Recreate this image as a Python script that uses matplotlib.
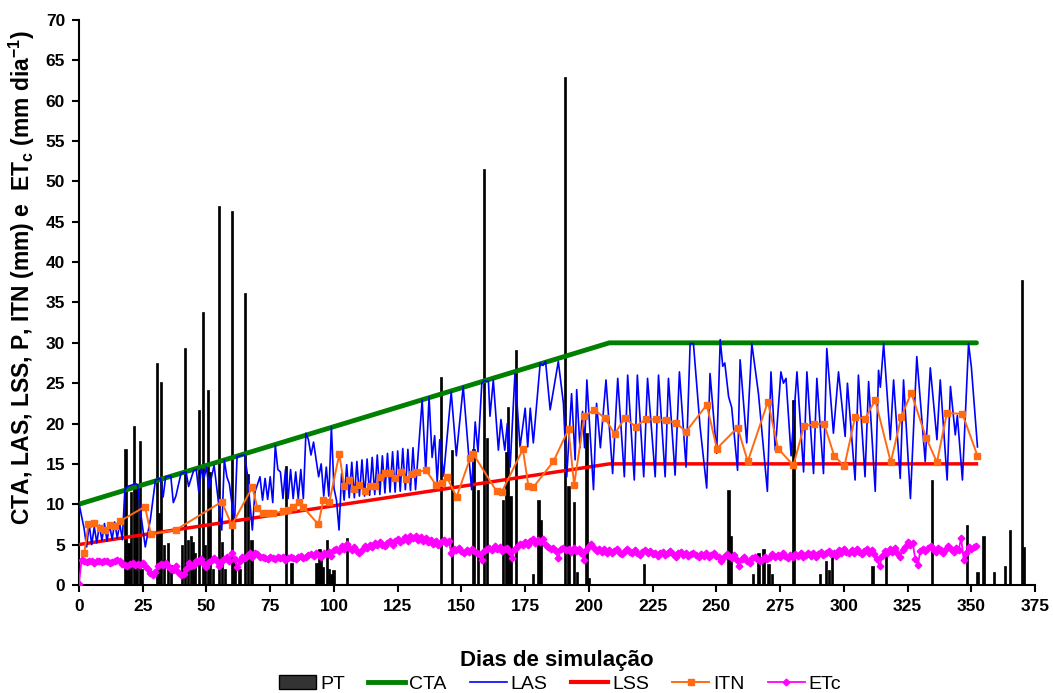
import numpy as np
import matplotlib
matplotlib.use('Agg')
import matplotlib.pyplot as plt
from matplotlib.patches import Patch
from matplotlib.lines import Line2D

plt.rcParams['font.family'] = ['Liberation Sans', 'DejaVu Sans']
plt.rcParams['mathtext.default'] = 'regular'

# CTA / LSS (breakpoints of the straight segments)
cta_days = [0, 208, 352]
cta_vals = [10, 30, 30]
lss_days = [0, 208, 352]
lss_vals = [5, 15, 15]

# LAS (local peaks / troughs)
las_days = [0, 2, 3, 4, 5, 6, 7, 8, 9, 10, 11, 12, 13, 14, 15, 16, 17, 18, 19, 20, 21, 22, 23, 24, 26, 28,
            30, 31, 32, 33, 34, 36, 37, 38, 40, 41, 42, 43, 45, 46, 47, 48, 49, 50, 51, 53, 56, 57, 58, 59,
            61, 62, 63, 65, 66, 68, 69, 71, 72, 73, 74, 75, 76, 77, 78, 79, 80, 81, 82, 83, 84, 85, 86, 87,
            88, 89, 90, 91, 92, 94, 95, 96, 97, 98, 99, 100, 101, 102, 103, 104, 105, 106, 107, 108, 109,
            110, 111, 112, 113, 114, 115, 116, 117, 118, 119, 120, 121, 122, 123, 124, 125, 126, 127, 128,
            129, 130, 131, 132, 134.6, 136, 137.3, 138.5, 139.5, 140.5, 141.5, 143, 146, 148, 150.7, 152.7,
            154, 155.4, 156.5, 158, 159, 160.6, 161.2, 162.5, 164.5, 165.5, 167, 168, 169.1, 171, 173, 175,
            176, 177, 178.2, 180.9, 182, 183, 184.8, 188, 190, 191.3, 193.2, 194.6, 195.2, 196.5, 197.5,
            198.3, 199.2, 201.8, 203, 204.5, 206.7, 209.3, 211.3, 213.9, 215.2, 217.8, 219, 221.5, 223,
            226, 227.3, 229.9, 231.2, 233.8, 235.5, 238.1, 239.7, 241, 243.6, 246.2, 247.5, 250.1, 251.5,
            252.5, 253.3, 254.8, 256, 258.3, 259.3, 261.9, 263.9, 266.5, 270, 271.4, 273.1, 275.3, 276.3,
            277.3, 279.3, 281.6, 284.2, 285.5, 288.1, 289.4, 292, 293.3, 295.9, 297.9, 300.5, 301.4, 304.4,
            305.7, 308.3, 309.7, 312.3, 313.6, 314.3, 315.6, 318.2, 319.5, 322.1, 323.4, 326.1, 328.6,
            331.9, 333.9, 336.5, 337.8, 340.5, 341.8, 343.7, 344.5, 346.5, 348.9, 350, 352.4]
las_vals = [10.1, 7.0, 4.7, 7.5, 5.0, 7.2, 5.2, 7.4, 5.5, 7.6, 5.4, 7.5, 5.6, 7.8, 5.8, 7.6, 5.6, 11.8, 12.2,
            12.3, 12.4, 12.6, 12.4, 9.4, 4.7, 8.1, 13.0, 13.1, 13.2, 10.9, 13.4, 13.5, 10.2, 11.0, 13.8, 13.9,
            14.0, 12.2, 14.2, 14.3, 11.5, 14.4, 13.2, 14.6, 12.0, 14.8, 6.8, 15.5, 13.4, 12.5, 7.6, 15.9,
            16.0, 16.1, 13.8, 6.8, 11.5, 13.4, 10.5, 13.2, 10.6, 13.4, 10.2, 17.3, 14.3, 14.0, 10.7, 14.3,
            10.7, 14.3, 10.7, 14.0, 10.7, 14.3, 10.7, 18.8, 18.0, 16.1, 17.7, 13.4, 15.0, 11.0, 14.6, 11.0,
            19.6, 12.0, 10.5, 6.8, 13.8, 10.5, 14.9, 10.8, 15.2, 10.8, 15.3, 11.0, 15.5, 11.0, 15.6, 11.1,
            15.8, 11.2, 16.1, 11.2, 16.0, 11.4, 16.3, 11.5, 16.5, 11.5, 16.6, 11.6, 16.9, 11.8, 16.8, 11.7,
            17.0, 11.8, 22.9, 14.0, 23.3, 15.8, 18.5, 12.8, 18.0, 13.5, 23.9, 16.0, 24.6, 16.7, 11.8, 20.2,
            16.5, 25.0, 25.3, 25.2, 20.9, 25.4, 16.7, 20.5, 16.7, 20.0, 14.6, 26.2, 17.1, 21.9, 17.1, 21.9,
            17.6, 27.5, 27.2, 27.7, 21.7, 27.7, 22.5, 13.4, 23.7, 15.5, 24.2, 17.0, 21.5, 17.0, 25.4, 11.8,
            22.5, 17.0, 25.4, 13.8, 25.6, 13.4, 26.0, 13.0, 26.0, 13.4, 25.6, 13.4, 26.0, 13.4, 25.6, 13.6,
            26.4, 14.6, 29.9, 29.9, 19.6, 12.0, 26.2, 16.3, 30.4, 27.1, 27.5, 23.3, 22.0, 14.2, 27.9, 17.6,
            29.9, 23.7, 11.6, 26.4, 16.7, 26.4, 25.0, 25.6, 16.0, 26.4, 14.0, 26.4, 13.8, 25.6, 13.8, 29.3,
            18.8, 26.4, 18.4, 25.0, 13.0, 26.0, 13.4, 25.2, 11.6, 26.6, 24.5, 29.9, 18.0, 25.4, 13.2, 25.4,
            10.7, 28.3, 15.3, 26.9, 18.0, 25.4, 13.0, 24.6, 18.6, 21.0, 13.0, 29.9, 27.0, 17.1]

# ITN (irrigation events)
itn_days = [2.1, 3.7, 6, 8.2, 10.2, 12.2, 14.1, 16.1, 25.9, 28.2, 37.9, 56, 59.9, 68, 70, 72.3, 74.3, 76.2,
            80.2, 82.1, 84.1, 86.1, 88, 93.9, 95.8, 98.2, 102.1, 104, 106.1, 107.9, 110, 112.2, 114.2, 116.1,
            118.1, 120.1, 122, 124, 126.2, 128.3, 130.5, 132.4, 136.1, 140, 142.2, 144.2, 148.1, 153.4,
            154.7, 163.8, 165.8, 174.1, 176.3, 178.2, 186.1, 192, 194.2, 198.2, 202.1, 206.2, 210.1, 214.1,
            218.3, 222.2, 226.2, 230.1, 234.1, 238.1, 246.2, 250.2, 258.3, 262.3, 270.2, 274.2, 280.2,
            284.4, 288.3, 292.2, 296.2, 300.2, 304.4, 308.3, 312.3, 318.4, 322.5, 326.4, 332.3, 336.5,
            340.4, 346.5, 352.4]
itn_vals = [4.0, 7.5, 7.7, 7.1, 6.8, 7.4, 7.3, 7.9, 9.7, 6.3, 6.8, 10.3, 7.4, 12.1, 9.5, 8.9, 8.9, 8.9,
            9.1, 9.3, 9.6, 10.3, 9.6, 7.5, 10.5, 10.3, 16.2, 12.3, 13.0, 11.9, 12.4, 11.6, 12.2, 12.2,
            13.4, 13.9, 13.9, 13.2, 14.0, 13.1, 13.8, 14.0, 14.2, 12.4, 12.6, 13.4, 10.9, 15.7,
            16.2, 11.6, 11.5, 16.8, 12.2, 12.1, 15.3, 19.3, 12.4, 20.9, 21.7, 20.7, 18.7, 20.7,
            19.6, 20.5, 20.5, 20.4, 20.1, 19.0, 22.3, 16.9, 19.5, 15.3, 22.7, 16.9, 14.8,
            19.7, 19.9, 20.0, 16.0, 14.7, 20.8, 20.6, 22.9, 15.2, 20.8, 23.8, 18.2, 15.2,
            21.3, 21.2, 16.0]

# ETc (daily, day 0 .. 352)
etc_vals = [0.1,
            3.1, 3.0, 2.8, 2.9, 3.0, 2.7, 2.9, 3.0, 2.8, 2.9,
            3.0, 2.7, 2.8, 3.0, 3.1, 2.9, 2.6, 2.5, 2.4, 2.6,
            2.7, 2.5, 2.6, 2.5, 2.7, 2.4, 2.0, 1.5, 1.2, 1.6,
            2.4, 2.6, 2.5, 2.7, 2.3, 2.0, 1.9, 2.4, 1.6, 1.2,
            1.4, 2.0, 2.7, 2.3, 2.5, 2.9, 3.0, 3.2, 2.6, 2.2,
            2.8, 3.1, 3.3, 2.9, 2.4, 2.9, 3.2, 3.4, 3.0, 3.9,
            3.2, 2.2, 2.9, 3.4, 3.3, 3.6, 3.9, 3.5, 3.9, 3.8,
            3.5, 3.4, 3.3, 3.2, 3.4, 3.3, 3.2, 3.5, 3.3, 3.4,
            3.1, 3.3, 3.5, 3.3, 3.2, 3.4, 3.6, 3.3, 3.5, 3.7,
            3.8, 3.6, 3.9, 3.7, 3.5, 4.0, 3.8, 4.1, 3.6, 4.3,
            4.5, 4.2, 4.8, 4.4, 5.1, 4.6, 4.3, 4.7, 4.2, 3.9,
            4.3, 4.8, 4.6, 5.0, 4.7, 5.2, 4.9, 5.3, 5.0, 4.8,
            5.2, 5.5, 4.9, 5.4, 5.7, 5.3, 5.6, 5.9, 5.5, 6.0,
            5.8, 6.1, 5.6, 5.9, 5.4, 5.8, 5.3, 5.6, 5.1, 5.4,
            5.0, 5.3, 5.6, 5.2, 5.5, 3.9, 4.4, 4.3, 4.6, 4.2,
            4.0, 4.3, 4.1, 4.4, 4.2, 4.0, 3.8, 3.1, 4.2, 4.5,
            4.6, 4.3, 4.8, 4.4, 4.7, 4.2, 4.5, 4.6, 4.1, 3.3,
            4.5, 4.8, 5.1, 4.9, 5.3, 5.0, 5.4, 5.7, 5.2, 5.6,
            5.3, 5.7, 4.9, 4.7, 4.5, 4.6, 4.2, 3.3, 4.4, 4.6,
            4.3, 4.5, 4.1, 4.6, 4.2, 4.4, 4.0, 3.1, 4.3, 4.8,
            5.1, 4.6, 4.2, 4.5, 4.1, 4.4, 4.0, 4.3, 3.9, 4.2,
            4.4, 4.0, 3.8, 4.2, 4.5, 4.1, 3.9, 4.3, 4.0, 3.7,
            4.1, 4.3, 3.9, 4.2, 3.8, 4.0, 3.6, 3.9, 4.1, 3.7,
            3.9, 4.2, 3.8, 3.5, 3.9, 4.1, 3.7, 4.0, 3.6, 3.8,
            4.0, 3.7, 3.4, 3.8, 3.6, 3.9, 3.5, 3.7, 4.0, 3.6,
            3.4, 2.9, 3.5, 3.8, 3.6, 3.3, 3.7, 3.1, 2.3, 3.2,
            3.4, 3.0, 2.7, 3.3, 3.5, 3.2, 2.9, 3.1, 3.4, 3.2,
            3.5, 3.8, 3.4, 3.7, 3.5, 3.9, 3.6, 3.3, 3.7, 3.5,
            3.8, 3.6, 3.9, 3.5, 3.7, 4.0, 3.6, 3.9, 3.5, 3.8,
            4.1, 3.7, 3.9, 4.2, 3.8, 4.0, 3.6, 4.3, 4.0, 4.4,
            4.1, 3.9, 4.3, 4.0, 4.4, 4.1, 3.8, 4.2, 4.5, 4.0,
            4.3, 3.8, 3.2, 2.3, 3.6, 4.2, 3.9, 4.4, 4.1, 4.6,
            4.0, 3.5, 4.3, 4.7, 5.3, 4.9, 5.2, 3.2, 2.5, 4.2,
            4.5, 4.2, 4.6, 4.8, 4.4, 4.1, 4.6, 4.3, 4.0, 4.5,
            4.8, 4.4, 4.1, 4.6, 4.3, 5.8, 3.1, 3.9, 4.7, 4.4,
            4.7, 4.8]
etc_days = np.arange(len(etc_vals))

# PT (precipitation)
pt_days = [18.3, 19.4, 20.3, 21.7, 22.6, 23.9, 24.6, 30.6, 31.3, 32.2, 33.3, 35, 36, 40.5, 41.7, 42.8,
           43.8, 44.7, 45.6, 47.2, 48.6, 49.5, 50.6, 51.5, 52.6, 55, 56, 57.2, 60, 61, 63, 65.1, 66.4,
           67.7, 81.2, 83.4, 93.2, 94.3, 95, 95.8, 97.2, 98, 99, 99.8, 105, 142, 146.2, 154.7, 156.6,
           158.9, 160, 166.4, 167.5, 168.4, 169.3, 171.3, 178.2, 180.2, 181, 190.7, 192, 194.2, 195.2,
           199, 200, 221.5, 254.7, 255.6, 264.3, 266.5, 268.5, 270.4, 271.7, 280.2, 290.7, 293, 294.2,
           295.3, 311.2, 316.4, 334.5, 348.3, 352.4, 354.8, 359, 363.3, 365.2, 369.8, 370.7]
pt_vals = [16.9, 5.2, 11.5, 19.7, 12.0, 17.8, 2.0, 27.5, 8.9, 25.2, 5.0, 5.2, 2.5, 5.0, 29.3, 5.6,
           6.0, 5.3, 4.0, 21.7, 33.8, 5.0, 24.2, 14.0, 2.0, 47.0, 5.3, 2.0, 46.3, 3.0, 2.0, 36.2, 13.8,
           5.6, 14.7, 2.7, 2.7, 4.5, 3.3, 2.2, 5.6, 2.0, 1.4, 1.8, 5.8, 25.8, 16.7, 16.9, 11.8,
           51.6, 18.2, 10.5, 16.5, 22.1, 11.0, 29.1, 1.4, 10.5, 8.1, 63.0, 12.2, 10.3, 1.6,
           18.8, 0.8, 2.6, 11.8, 6.0, 1.4, 3.9, 4.5, 2.6, 1.4, 22.9, 1.4, 3.0, 1.8,
           3.7, 2.4, 3.7, 13.0, 7.4, 1.6, 6.0, 1.6, 2.4, 6.8, 37.8, 4.7]

fig = plt.figure(figsize=(10.53, 6.93), dpi=100)
ax = fig.add_axes([0.075, 0.156, 0.908, 0.815])

ax.bar(pt_days, pt_vals, width=0.9, color='black', edgecolor='black', linewidth=0.5, zorder=1)
ax.plot(cta_days, cta_vals, color='#008000', lw=3.5, solid_capstyle='round', zorder=3)
ax.plot(las_days, las_vals, color='#0000FF', lw=1.2, zorder=4)
ax.plot(lss_days, lss_vals, color='#FF0000', lw=2.5, zorder=3)
ax.plot(itn_days, itn_vals, color='#FF6A13', lw=1.4, marker='s', ms=5, zorder=5)
ax.plot(etc_days, etc_vals, color='#FF00FF', lw=1.3, marker='D', ms=3.4, zorder=5)

ax.set_xlim(0, 375)
ax.set_ylim(0, 70)
ax.set_xticks(np.arange(0, 376, 25))
ax.set_yticks(np.arange(0, 71, 5))
for s in ['top', 'right']:
    ax.spines[s].set_visible(False)
for s in ['left', 'bottom']:
    ax.spines[s].set_linewidth(1.5)
ax.tick_params(direction='out', length=5, width=1.5, labelsize=12.5, pad=5)
for lab in ax.get_xticklabels() + ax.get_yticklabels():
    lab.set_fontweight('bold')

ax.set_xlabel('Dias de simulação', fontsize=16, fontweight='bold', labelpad=26)
ax.set_ylabel('CTA, LAS, LSS, P, ITN (mm) e  ET$_c$ (mm dia$^{-1}$)', fontsize=16.5,
              fontweight='bold')
ax.yaxis.set_label_coords(-0.044, 0.545)

handles = [Patch(facecolor='#333333', edgecolor='black', label='PT'),
           Line2D([], [], color='#008000', lw=3.5, label='CTA'),
           Line2D([], [], color='#0000FF', lw=1.2, label='LAS'),
           Line2D([], [], color='#FF0000', lw=3, label='LSS'),
           Line2D([], [], color='#FF6A13', lw=1.4, marker='s', ms=5, label='ITN'),
           Line2D([], [], color='#FF00FF', lw=1.3, marker='D', ms=3.4, label='ETc')]
fig.legend(handles=handles, loc='center', bbox_to_anchor=(0.532, 0.013), ncol=6, frameon=False,
           fontsize=14, handlelength=1.9, columnspacing=1.2, handletextpad=0.2)

fig.savefig('out.png', dpi=100)
